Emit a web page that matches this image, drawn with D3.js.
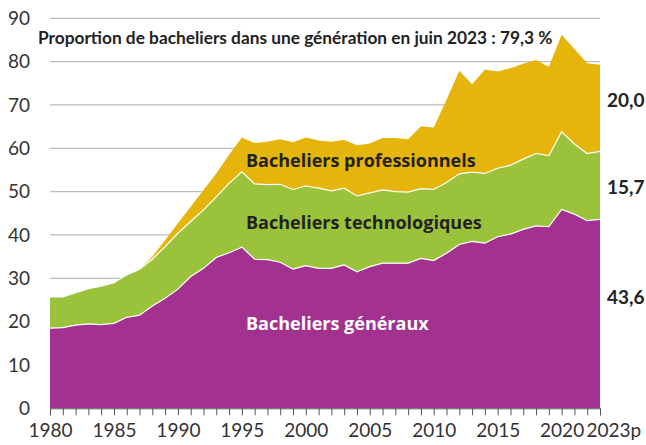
<!DOCTYPE html>
<html>
<head>
<meta charset="utf-8">
<script src="https://cdn.jsdelivr.net/npm/d3@7"></script>
<style>
  body { margin: 0; background: #fff; }
  svg { display: block; font-family: Lato, "Open Sans", sans-serif; }
</style>
</head>
<body>
<svg id="chart"></svg>
<script>
// années 1980 -> 2023 (2023 provisoire)
const years = d3.range(1980, 2024);
const generaux = [18.5,18.6,19.2,19.5,19.3,19.6,21.0,21.5,23.6,25.4,27.5,30.4,32.3,34.8,35.9,37.2,34.4,34.3,33.7,32.1,32.9,32.3,32.3,33.1,31.5,32.7,33.5,33.5,33.5,34.6,34.1,35.8,37.8,38.5,38.1,39.6,40.2,41.3,42.1,41.9,45.9,44.8,43.3,43.6];
const technos  = [7.2,7.1,7.5,8.1,8.9,9.4,9.8,10.6,10.8,11.9,12.9,12.7,13.5,14.0,16.0,17.4,17.4,17.3,18.0,18.4,18.4,18.5,17.9,17.7,17.5,17.0,16.9,16.5,16.4,16.1,16.4,16.3,16.3,16.0,16.1,15.8,15.9,16.2,16.7,16.4,17.9,16.2,15.5,15.7];
const pros     = [0,0,0,0,0,0,0,0,0.6,1.5,2.3,3.4,4.6,5.4,6.6,7.9,9.4,9.9,10.4,10.9,11.2,11.0,11.3,11.1,11.7,11.4,12.0,12.4,12.2,14.4,14.3,19.1,23.8,20.3,24.0,22.3,22.4,22.0,21.6,20.5,22.4,21.9,20.8,20.0];
const yTicks = [0,10,20,30,40,50,60,70,80,90];
const xLabels = {1980:"1980",1985:"1985",1990:"1990",1995:"1995",2000:"2000",2005:"2005",2010:"2010",2015:"2015",2020:"2020",2023:"2023p"};

const W = 646, H = 445;
const svg = d3.select("#chart").attr("width", W).attr("height", H);

const x = d3.scaleLinear().domain([1980, 2023]).range([50, 600]);
const y = d3.scaleLinear().domain([0, 90]).range([408.3, 18.3]);

const keys = ["gen", "tech", "pro"];
const colors = { gen: "#a2318f", tech: "#9bc23b", pro: "#e6b50c" };
const table = years.map((yr, i) => ({ year: yr, gen: generaux[i], tech: technos[i], pro: pros[i] }));
const series = d3.stack().keys(keys)(table);

// grille
svg.append("g")
  .selectAll("line")
  .data(yTicks.filter(d => d > 0))
  .join("line")
  .attr("x1", 50).attr("x2", 600)
  .attr("y1", d => y(d)).attr("y2", d => y(d))
  .attr("stroke", "#bdbdbd")
  .attr("stroke-width", 1.3);

const area = d3.area()
  .x(d => x(d.data.year))
  .y0(d => y(d[0]))
  .y1(d => y(d[1]));

svg.append("g")
  .selectAll("path")
  .data(series)
  .join("path")
  .attr("d", area)
  .attr("fill", d => colors[d.key]);

// liserés blancs entre les couches
const line = d3.line().x(d => x(d.data.year)).y(d => y(d[1]));
svg.append("g")
  .selectAll("path")
  .data(series.slice(0, 2))
  .join("path")
  .attr("d", line)
  .attr("fill", "none")
  .attr("stroke", "#fff")
  .attr("stroke-width", 1.2);

// axe y
svg.append("g")
  .selectAll("text")
  .data(yTicks)
  .join("text")
  .attr("x", 30)
  .attr("y", d => y(d))
  .attr("dy", "0.36em")
  .attr("text-anchor", "end")
  .attr("fill", "#333")
  .style("font-size", "19px")
  .text(d => d);

// axe x
const xAxis = svg.append("g")
  .attr("transform", `translate(0,${y(0)})`)
  .call(d3.axisBottom(x)
    .tickValues(years)
    .tickSize(7)
    .tickPadding(8)
    .tickFormat(d => xLabels[d] || ""));
xAxis.select(".domain").attr("stroke", "#555").attr("stroke-width", 1);
xAxis.selectAll(".tick line").attr("stroke", "#555");
xAxis.selectAll("text")
  .attr("fill", "#333")
  .style("font-size", "19px")
  .style("font-family", "Lato, 'Open Sans', sans-serif");
xAxis.selectAll(".tick").filter(d => d === 2023).select("text")
  .attr("text-anchor", "start")
  .attr("x", -14);

// titre
svg.append("text")
  .attr("x", 38).attr("y", 44)
  .attr("fill", "#222")
  .style("font-size", "17.3px")
  .style("font-weight", "bold")
  .text("Proportion de bacheliers dans une génération en juin 2023 : 79,3 %");

// étiquettes des couches
const labels = [
  { t: "Bacheliers professionnels", v: 57.2, c: "#222" },
  { t: "Bacheliers technologiques", v: 42.9, c: "#222" },
  { t: "Bacheliers généraux", v: 19.6, c: "#fff" }
];
svg.append("g")
  .selectAll("text")
  .data(labels)
  .join("text")
  .attr("x", 246)
  .attr("y", d => y(d.v))
  .attr("dy", "0.36em")
  .attr("fill", d => d.c)
  .style("font-family", "'Open Sans', Lato, sans-serif")
  .style("font-size", "18px")
  .style("font-weight", "bold")
  .text(d => d.t);

// valeurs 2023
const endVals = [
  { t: "20,0", v: 71.2 },
  { t: "15,7", v: 51.1 },
  { t: "43,6", v: 25.6 }
];
svg.append("g")
  .selectAll("text")
  .data(endVals)
  .join("text")
  .attr("x", 607)
  .attr("y", d => y(d.v))
  .attr("dy", "0.36em")
  .attr("fill", "#222")
  .style("font-size", "19px")
  .style("font-weight", "bold")
  .text(d => d.t);
</script>
</body>
</html>
